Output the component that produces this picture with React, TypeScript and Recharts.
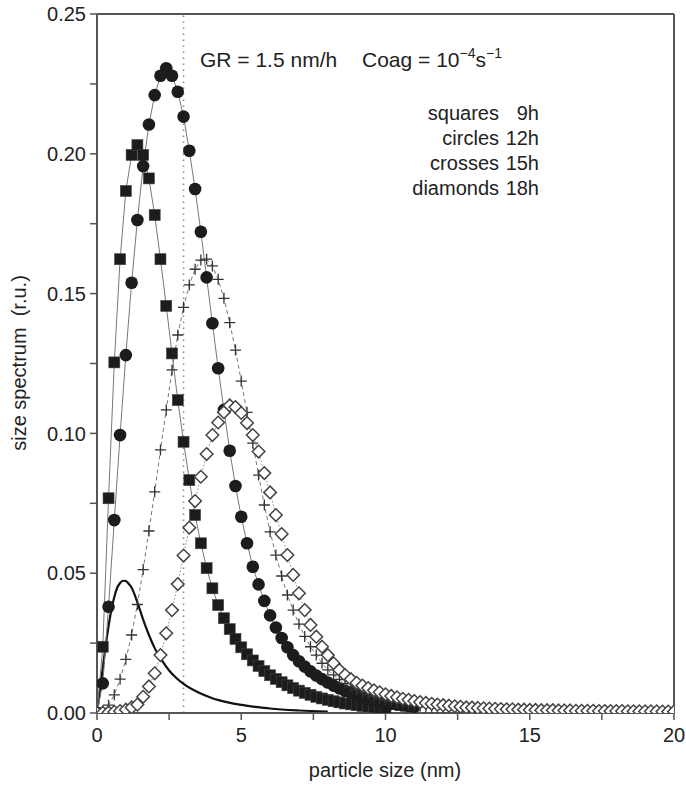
import React from "react";
import { LineChart, Line, XAxis, YAxis, ReferenceLine } from "recharts";

// particle size grid (nm), one marker every 0.2 nm
const sizes = [
  0, 0.2, 0.4, 0.6, 0.8, 1, 1.2, 1.4, 1.6, 1.8,
  2, 2.2, 2.4, 2.6, 2.8, 3, 3.2, 3.4, 3.6, 3.8,
  4, 4.2, 4.4, 4.6, 4.8, 5, 5.2, 5.4, 5.6, 5.8,
  6, 6.2, 6.4, 6.6, 6.8, 7, 7.2, 7.4, 7.6, 7.8,
  8, 8.2, 8.4, 8.6, 8.8, 9, 9.2, 9.4, 9.6, 9.8,
  10, 10.2, 10.4, 10.6, 10.8, 11, 11.2, 11.4, 11.6, 11.8,
  12, 12.2, 12.4, 12.6, 12.8, 13, 13.2, 13.4, 13.6, 13.8,
  14, 14.2, 14.4, 14.6, 14.8, 15, 15.2, 15.4, 15.6, 15.8,
  16, 16.2, 16.4, 16.6, 16.8, 17, 17.2, 17.4, 17.6, 17.8,
  18, 18.2, 18.4, 18.6, 18.8, 19, 19.2, 19.4, 19.6, 19.8, 20,
];

// squares 9h
const squares9h = [
  0, 0.0237, 0.0768, 0.1254, 0.1623, 0.1867, 0.1996, 0.2031, 0.1996, 0.1912,
  0.1781, 0.1623, 0.1456, 0.1286, 0.1119, 0.097, 0.0833, 0.0708, 0.0607, 0.0518,
  0.0446, 0.0386, 0.0339, 0.03, 0.0265, 0.0235, 0.021, 0.0188, 0.0168, 0.015,
  0.0135, 0.0122, 0.011, 0.0099, 0.0089, 0.008, 0.0072, 0.0065, 0.0058, 0.0052,
  0.0047, 0.0042, 0.0038, 0.0034, 0.0031, 0.0028, 0.0025, 0.0023, 0.0021, 0.0019,
  0.0017,
];

// circles 12h
const circles12h = [
  0, 0.0106, 0.038, 0.069, 0.0994, 0.128, 0.1539, 0.1763, 0.1956, 0.2105,
  0.221, 0.2279, 0.2306, 0.2279, 0.2222, 0.2133, 0.2011, 0.1874, 0.1721, 0.1558,
  0.1394, 0.1233, 0.1084, 0.0938, 0.0812, 0.0702, 0.0607, 0.0523, 0.046, 0.0401,
  0.0349, 0.0306, 0.0268, 0.0235, 0.0207, 0.0185, 0.0166, 0.0149, 0.0134, 0.0121,
  0.0109, 0.0098, 0.0088, 0.0079, 0.0071, 0.0064, 0.0057, 0.0051, 0.0046, 0.0041,
  0.0037, 0.0033, 0.003, 0.0027, 0.0024, 0.0022,
];

// crosses 15h
const crosses15h = [
  0, 0.0008, 0.0028, 0.0065, 0.0121, 0.0192, 0.0279, 0.0388, 0.0513, 0.0651,
  0.0791, 0.0941, 0.1084, 0.1227, 0.1352, 0.1451, 0.1531, 0.1587, 0.162, 0.1623,
  0.1599, 0.1551, 0.1483, 0.1396, 0.1298, 0.1187, 0.1075, 0.0965, 0.0851, 0.0744,
  0.0648, 0.0565, 0.049, 0.0422, 0.0368, 0.0318, 0.0274, 0.0237, 0.0207, 0.0178,
  0.0154, 0.0136, 0.012, 0.0106, 0.0094, 0.0083, 0.0074, 0.0066, 0.0059, 0.0053,
  0.0047, 0.0042, 0.0038, 0.0034, 0.003, 0.0027, 0.0024, 0.0022, 0.002, 0.0018,
  0.0016,
];

// diamonds 18h
const diamonds18h = [
  0, 0.0001, 0.0002, 0.0004, 0.0007, 0.0012, 0.002, 0.003, 0.0058, 0.0095,
  0.0142, 0.0207, 0.0285, 0.0368, 0.0461, 0.0563, 0.0663, 0.0758, 0.0845, 0.0926,
  0.0994, 0.1039, 0.1076, 0.11, 0.1094, 0.1073, 0.1037, 0.0994, 0.0935, 0.0858,
  0.0789, 0.0708, 0.064, 0.0565, 0.0494, 0.0428, 0.0368, 0.0315, 0.0273, 0.0237,
  0.0207, 0.0178, 0.0154, 0.0136, 0.0121, 0.0108, 0.0098, 0.0089, 0.0081, 0.0074,
  0.0067, 0.0061, 0.0056, 0.0051, 0.0047, 0.0043, 0.0039, 0.0036, 0.0033, 0.003,
  0.0028, 0.0026, 0.0024, 0.0022, 0.002, 0.0019, 0.0018, 0.0017, 0.0016, 0.0015,
  0.0014, 0.0013, 0.0013, 0.0012, 0.0012, 0.0011, 0.0011, 0.001, 0.001, 0.001,
  0.0009, 0.0009, 0.0009, 0.0008, 0.0008, 0.0008, 0.0008, 0.0007, 0.0007, 0.0007,
  0.0007, 0.0007, 0.0006, 0.0006, 0.0006, 0.0006, 0.0006, 0.0006, 0.0005, 0.0005,
  0.0005,
];

// initial spectrum (solid line)
const initSizes = [0, 0.1, 0.2, 0.3, 0.4, 0.5, 0.6, 0.7, 0.8, 0.9, 1, 1.1, 1.2, 1.4, 1.6, 1.8, 2, 2.25, 2.5, 2.75, 3, 3.5, 4, 4.5, 5, 5.5, 6, 7, 8];
const initSpectrum = [0, 0.008, 0.016, 0.024, 0.031, 0.037, 0.0415, 0.0448, 0.0465, 0.0473, 0.0472, 0.0462, 0.0448, 0.0396, 0.0334, 0.0279, 0.0232, 0.0188, 0.0152, 0.0125, 0.0104, 0.0074, 0.0053, 0.0039, 0.0029, 0.0022, 0.0016, 0.0009, 0.0005];

const xTicks = [0, 2.5, 5, 7.5, 10, 12.5, 15, 17.5, 20];
const yTicks = [0, 0.025, 0.05, 0.075, 0.1, 0.125, 0.15, 0.175, 0.2, 0.225, 0.25];

const legendNames = ["squares", "circles", "crosses", "diamonds"];
const legendTimes = ["9h", "12h", "15h", "18h"];

const toRows = (xs: number[], ys: number[]) => ys.map((y, i) => ({ x: xs[i], y }));

const sqData = toRows(sizes, squares9h);
const ciData = toRows(sizes, circles12h);
const crData = toRows(sizes, crosses15h);
const diData = toRows(sizes, diamonds18h);
const initData = toRows(initSizes, initSpectrum);

const FONT = "'Liberation Sans', Arial, Helvetica, sans-serif";
const AXIS = "#555";

const SquareDot = (p: any) => {
  if (p.cx == null || p.cy == null) return <g key={p.index} />;
  return <rect key={p.index} x={p.cx - 5.5} y={p.cy - 5.5} width={11} height={11} fill="#1c1c1c" stroke="#444" strokeWidth={0.6} />;
};

const CircleDot = (p: any) => {
  if (p.cx == null || p.cy == null) return <g key={p.index} />;
  return <circle key={p.index} cx={p.cx} cy={p.cy} r={6.3} fill="#1c1c1c" />;
};

const CrossDot = (p: any) => {
  if (p.cx == null || p.cy == null) return <g key={p.index} />;
  return (
    <path
      key={p.index}
      d={`M${p.cx - 5.5},${p.cy} H${p.cx + 5.5} M${p.cx},${p.cy - 5.5} V${p.cy + 5.5}`}
      stroke="#333"
      strokeWidth={1.3}
      fill="none"
    />
  );
};

const DiamondDot = (p: any) => {
  if (p.cx == null || p.cy == null) return <g key={p.index} />;
  const r = 6.3;
  return (
    <polygon
      key={p.index}
      points={`${p.cx},${p.cy - r} ${p.cx + r},${p.cy} ${p.cx},${p.cy + r} ${p.cx - r},${p.cy}`}
      fill="#fff"
      stroke="#444"
      strokeWidth={1.5}
    />
  );
};

const fmtY = (v: number) => (Math.round(v * 1000) % 50 === 0 ? v.toFixed(2) : "");
const fmtX = (v: number) => (v % 5 === 0 ? String(v) : "");

export default function App() {
  return (
    <div style={{ position: "absolute", left: 0, top: 0, width: 686, height: 786, background: "#fff" }}>
      <LineChart width={686} height={786} margin={{ top: 14, right: 12, bottom: 0, left: 0 }}>
        <XAxis
          dataKey="x"
          type="number"
          domain={[0, 20]}
          ticks={xTicks}
          tickFormatter={fmtX}
          height={73}
          tickSize={7}
          tickMargin={8}
          axisLine={{ stroke: AXIS, strokeWidth: 2 }}
          tickLine={{ stroke: AXIS, strokeWidth: 1.5 }}
          tick={{ fontSize: 20, fill: "#222", fontFamily: FONT }}
          allowDataOverflow
        />
        <YAxis
          type="number"
          domain={[0, 0.25]}
          ticks={yTicks}
          tickFormatter={fmtY}
          width={97}
          tickSize={7}
          tickMargin={4}
          axisLine={{ stroke: AXIS, strokeWidth: 2 }}
          tickLine={{ stroke: AXIS, strokeWidth: 1.5 }}
          tick={{ fontSize: 20, fill: "#222", fontFamily: FONT }}
          allowDataOverflow
        />
        <ReferenceLine y={0.25} stroke={AXIS} strokeWidth={2} />
        <ReferenceLine x={20} stroke={AXIS} strokeWidth={2} />
        <ReferenceLine x={3} stroke="#888" strokeWidth={1.5} strokeDasharray="1.5 4.5" />
        <Line data={initData} dataKey="y" type="monotone" stroke="#111" strokeWidth={2.2} dot={false} activeDot={false} isAnimationActive={false} />
        <Line data={sqData} dataKey="y" type="linear" stroke="#777" strokeWidth={1} dot={SquareDot} activeDot={false} isAnimationActive={false} />
        <Line data={ciData} dataKey="y" type="linear" stroke="#777" strokeWidth={1} dot={CircleDot} activeDot={false} isAnimationActive={false} />
        <Line data={crData} dataKey="y" type="linear" stroke="#777" strokeWidth={1} strokeDasharray="4 3" dot={CrossDot} activeDot={false} isAnimationActive={false} />
        <Line data={diData} dataKey="y" type="linear" stroke="#888" strokeWidth={1} strokeDasharray="1.5 2" dot={DiamondDot} activeDot={false} isAnimationActive={false} />
      </LineChart>
      <svg width={686} height={786} style={{ position: "absolute", left: 0, top: 0, pointerEvents: "none" }} fontFamily={FONT} fill="#222">
        <text x={200} y={67} fontSize={21}>GR = 1.5 nm/h</text>
        <text x={362} y={67} fontSize={21}>
          Coag = 10
          <tspan dy={-9} fontSize={14}>−4</tspan>
          <tspan dy={9} fontSize={21}>s</tspan>
          <tspan dy={-9} fontSize={14}>−1</tspan>
        </text>
        {legendNames.map((name, i) => (
          <React.Fragment key={name}>
            <text x={499} y={120 + i * 25} fontSize={20} textAnchor="end">{name}</text>
            <text x={539} y={120 + i * 25} fontSize={20} textAnchor="end">{legendTimes[i]}</text>
          </React.Fragment>
        ))}
        <text x={385} y={777} fontSize={20} textAnchor="middle">particle size (nm)</text>
        <text x={26} y={363} fontSize={20} textAnchor="middle" transform="rotate(-90 26 363)" style={{ whiteSpace: "pre" }}>
          size spectrum  (r.u.)
        </text>
      </svg>
    </div>
  );
}
